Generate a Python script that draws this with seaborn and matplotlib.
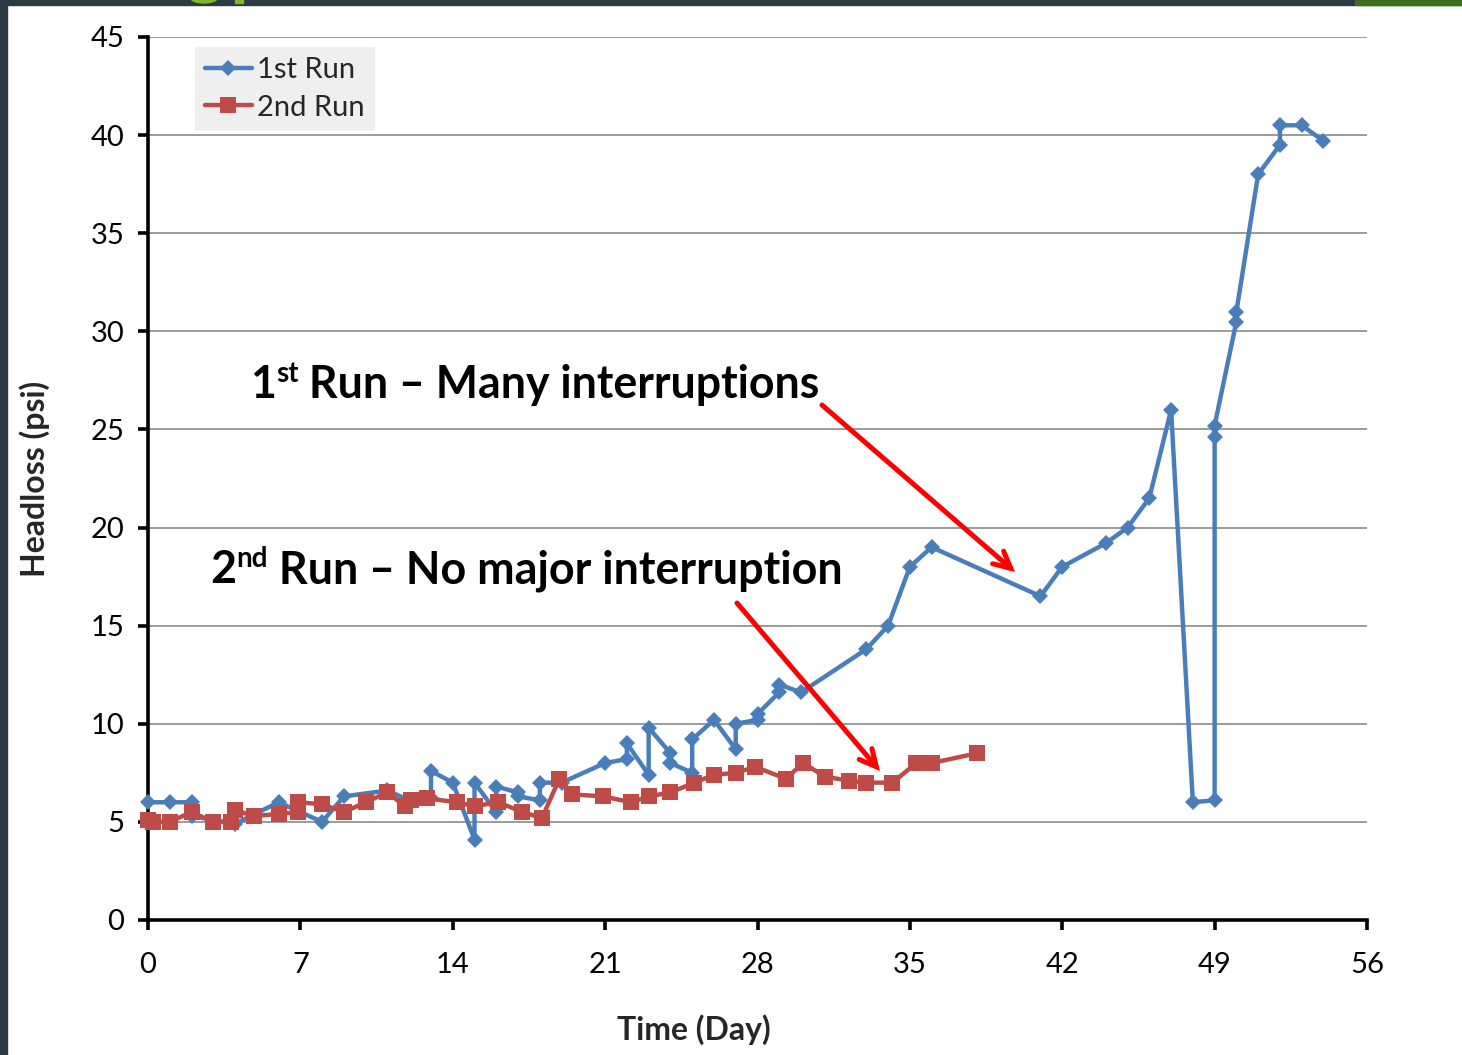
import numpy as np
import pandas as pd
import matplotlib
matplotlib.use("Agg")
import matplotlib.pyplot as plt
from matplotlib.patches import Rectangle, Ellipse
import seaborn as sns

# ---------------- data ----------------
run1_day = [0, 1, 2, 2, 4, 6, 8, 9, 11, 12, 13, 13, 14, 15, 15, 16, 16, 17, 17,
            18, 18, 19, 21, 22, 22, 23, 23, 24, 24, 25, 25, 26, 27, 27, 28, 28,
            29, 29, 30, 33, 34, 35, 36, 41, 42, 44, 45, 46, 47, 48, 49, 49, 49,
            50, 50, 51, 52, 52, 53, 54]
run1_headloss = [6.0, 6.0, 6.0, 5.3, 4.9, 6.0, 5.0, 6.3, 6.6, 6.1, 6.2, 7.6, 7.0,
                 4.1, 7.0, 5.5, 6.8, 6.5, 6.3, 6.1, 7.0, 7.0, 8.0, 8.2, 9.0, 7.4,
                 9.8, 8.5, 8.0, 7.5, 9.2, 10.2, 8.7, 10.0, 10.2, 10.5, 11.6, 12.0,
                 11.6, 13.8, 15.0, 18.0, 19.0, 16.5, 18.0, 19.2, 20.0, 21.5, 26.0,
                 6.0, 6.1, 24.6, 25.2, 30.5, 31.0, 38.0, 39.5, 40.5, 40.5, 39.7]

run2_day = [0, 0.25, 1, 2, 3, 3.8, 4, 4.85, 6, 6.9, 6.9, 8, 9, 10, 11, 11.8, 12.1,
            12.8, 14.2, 15, 16.1, 17.2, 18.1, 18.9, 19.5, 20.9, 22.2, 23, 24,
            25.1, 26, 27, 27.9, 29.3, 30.1, 31.1, 32.2, 33, 34.2, 35.3, 36, 38.1]
run2_headloss = [5.1, 5.0, 5.0, 5.5, 5.0, 5.0, 5.6, 5.3, 5.4, 5.5, 6.0, 5.9, 5.5,
                 6.0, 6.5, 5.8, 6.1, 6.2, 6.0, 5.8, 6.0, 5.5, 5.2, 7.2, 6.4, 6.3,
                 6.0, 6.3, 6.5, 7.0, 7.4, 7.5, 7.8, 7.2, 8.0, 7.3, 7.1, 7.0, 7.0,
                 8.0, 8.0, 8.5]

series_labels = ["1st Run", "2nd Run"]
x_ticks = list(range(0, 57, 7))
y_ticks = list(range(0, 46, 5))

BLUE = "#4A7EBB"
RED = "#BE4B48"

W, H = 1462, 1055

sns.set_theme(style="white")
plt.rcParams["font.family"] = ["Lato", "DejaVu Sans"]

fig = plt.figure(figsize=(W / 100, H / 100), dpi=100)
fig.patch.set_facecolor("white")

# slide decoration (dark frame edges)
DARK = "#2B3B44"
fig.patches.append(Rectangle((0, 0), 7 / W, 1, transform=fig.transFigure,
                             color=DARK, zorder=0))
fig.patches.append(Rectangle((0, 1 - 5 / H), 1, 5 / H, transform=fig.transFigure,
                             color=DARK, zorder=0))
fig.patches.append(Rectangle((1355 / W, 1 - 5 / H), 107 / W, 5 / H,
                             transform=fig.transFigure, color="#3E6E22", zorder=1))
fig.patches.append(Ellipse((204 / W, 1 + 3 / H), 28 / W, 12 / H,
                           transform=fig.transFigure, color="#7DB828", zorder=1))
fig.patches.append(Rectangle((235 / W, 1 - 3 / H), 8 / W, 3 / H,
                             transform=fig.transFigure, color="#7DB828", zorder=1))

ax = fig.add_axes([148 / W, 135 / H, 1219 / W, 883 / H])

df1 = pd.DataFrame({"day": run1_day, "headloss": run1_headloss})
df2 = pd.DataFrame({"day": run2_day, "headloss": run2_headloss})

sns.lineplot(data=df1, x="day", y="headloss", ax=ax, sort=False, estimator=None,
             color=BLUE, linewidth=3.2, marker="D", markersize=8.3,
             markeredgecolor=BLUE, markeredgewidth=0, label=series_labels[0],
             clip_on=False, zorder=3)
sns.lineplot(data=df2, x="day", y="headloss", ax=ax, sort=False, estimator=None,
             color=RED, linewidth=3.2, marker="s", markersize=11.5,
             markeredgecolor=RED, markeredgewidth=0, label=series_labels[1],
             clip_on=False, zorder=4)

ax.set_xlim(0, 56)
ax.set_ylim(0, 45)
ax.set_xticks(x_ticks)
ax.set_yticks(y_ticks)
ax.tick_params(axis="both", which="major", bottom=True, left=True, direction="out",
               length=7, width=2.6, color="black", labelsize=21,
               labelcolor="black")
ax.tick_params(axis="x", pad=16)
ax.tick_params(axis="y", pad=10)
for s in ["top", "right"]:
    ax.spines[s].set_visible(False)
for s in ["left", "bottom"]:
    ax.spines[s].set_color("black")
    ax.spines[s].set_linewidth(2.6)
ax.yaxis.grid(True, color="#8A8A8A", linewidth=1.2)
ax.xaxis.grid(False)
ax.set_axisbelow(True)

ax.set_xlabel("Time (Day)", fontsize=23, fontweight="bold")
ax.set_ylabel("Headloss (psi)", fontsize=23, fontweight="bold")
ax.xaxis.set_label_coords((694 - 148) / 1219, (920 - 1014) / 883)
ax.yaxis.set_label_coords((50 - 148) / 1219, (920 - 479) / 883)

leg = ax.legend(loc="upper left", bbox_to_anchor=((195 - 148) / 1219, (920 - 47) / 883),
                borderaxespad=0, fontsize=21, frameon=True, fancybox=False,
                handlelength=1.6, handletextpad=0.2, borderpad=0.34,
                labelspacing=0.4)
leg.get_frame().set_facecolor("#EFEFEF")
leg.get_frame().set_edgecolor("none")
leg.get_frame().set_alpha(1)

# red arrows (annotation)
def px2data(px, py):
    return ((px - 148) / 1219 * 56, (920 - py) / 883 * 45)

arrow_style = dict(arrowstyle="->,head_length=1.0,head_width=0.5", color="#FF0000",
                   lw=3.6, shrinkA=0, shrinkB=0, capstyle="round", joinstyle="miter")
ax.annotate("", xy=px2data(1015, 572), xytext=px2data(822, 405),
            arrowprops=arrow_style, zorder=6)
ax.annotate("", xy=px2data(880, 771), xytext=px2data(737, 603),
            arrowprops=arrow_style, zorder=6)

# rich annotation text with superscripts
fig.canvas.draw()
renderer = fig.canvas.get_renderer()

def rich_text(x_px, baseline_px, parts, size):
    x = x_px
    for txt, sup in parts:
        fs = size * 0.62 if sup else size
        yb = baseline_px - (size * 1.389 * 0.36 if sup else 0)
        t = fig.text(x / W, 1 - yb / H, txt, fontsize=fs, fontweight="bold",
                     color="black", ha="left", va="baseline")
        bb = t.get_window_extent(renderer)
        x += bb.width

rich_text(250, 398, [("1", False), ("st", True), (" Run – Many interruptions", False)], 32.1)
rich_text(210, 583, [("2", False), ("nd", True), (" Run – No major interruption", False)], 32.3)

fig.savefig("out.png", dpi=100, facecolor="white")
